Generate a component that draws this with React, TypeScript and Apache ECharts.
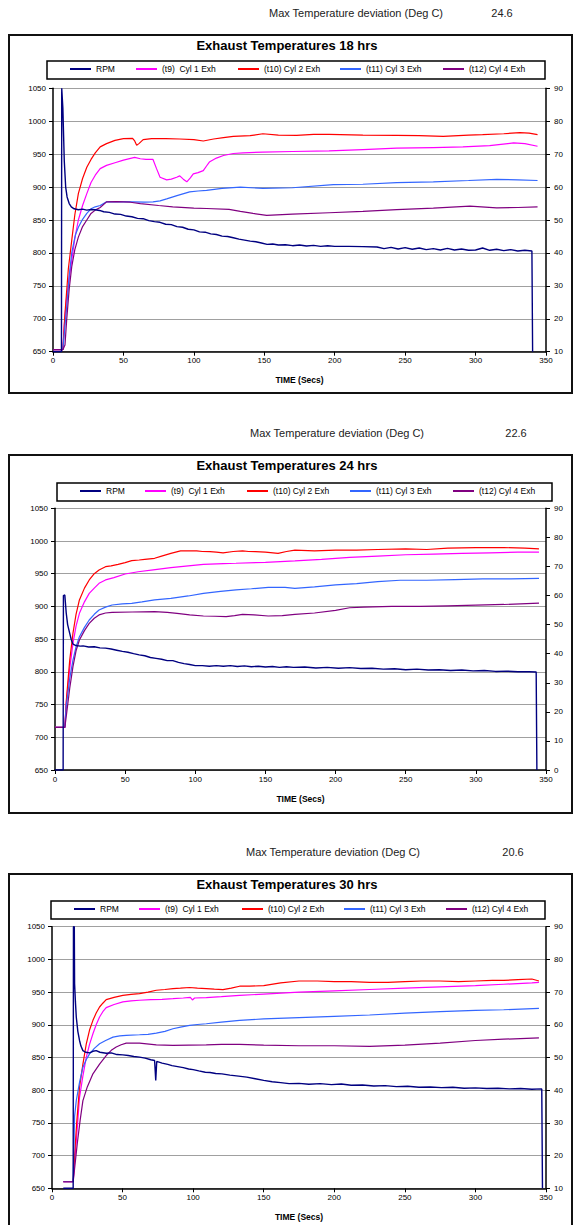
import React, { useEffect, useRef } from "react";
import * as echarts from "echarts";

// ---------- DATA ----------
const chartTitles = ["Exhaust Temperatures 18 hrs", "Exhaust Temperatures 24 hrs", "Exhaust Temperatures 30 hrs"];
const deviationLabel = "Max Temperature deviation (Deg C)";
const deviationValues = ["24.6", "22.6", "20.6"];
const seriesNames = ["RPM", "(t9)  Cyl 1 Exh", "(t10) Cyl 2 Exh", "(t11) Cyl 3 Exh", "(t12) Cyl 4 Exh"];
const xTitle = "TIME (Secs)";
const xRange = [0, 350, 50];
const tempRange = [650, 1050, 50];
const rpmRanges = [[10, 90, 10], [0, 90, 10], [10, 90, 10]];

// 18 hrs
const rpm18 = [[0,10],[6,10],[6.2,90],[7,84],[8,68],[9,60],[10,57],[11.5,55],[13,54],[15,53.4],[18,53.1],[21,53.3],[24,53.0],[27,53.2],[30,53.1],[33,52.9],[36,52.5],[40,52.3],[44,51.8],[48,51.7],[52,51.2],[56,51.0],[60,50.5],[64,50.4],[68,49.8],[72,49.5],[76,49.3],[80,48.7],[84,48.6],[88,48.0],[92,47.8],[96,47.2],[100,47.0],[104,46.4],[108,46.3],[112,45.8],[116,45.6],[120,45.1],[124,45.0],[128,44.6],[132,44.2],[136,43.9],[140,43.6],[144,43.4],[148,43.0],[152,42.6],[156,42.7],[160,42.4],[165,42.5],[170,42.2],[175,42.4],[180,42.1],[185,42.3],[190,42.0],[195,42.2],[200,42.0],[210,42.0],[220,41.9],[230,41.8],[235,41.3],[240,41.7],[245,41.2],[250,41.6],[255,41.1],[260,41.5],[265,41.0],[270,41.3],[275,40.9],[280,41.4],[285,40.9],[290,41.2],[295,40.8],[300,40.9],[305,41.5],[310,40.8],[315,41.1],[320,40.7],[325,41.0],[330,40.6],[335,40.8],[340,40.6],[340.5,10]];
const cyl1_18 = [[0,653],[7,653],[8,690],[9.7,733],[11.5,762],[13.3,789],[15.5,822],[18,850],[21,872],[24,890],[27,907],[30,918],[33.5,928],[38,933],[44,937],[50,941],[58,945],[62,943],[66,942],[71,942],[73.5,928],[76,915],[80.7,911],[84,912],[87.8,915],[90,917],[92.5,912],[95,908],[97.5,914],[99.6,920],[103,922],[106.7,925],[109,932],[111,938],[116,944],[121,948],[128,951],[135,952],[149,953],[170,954],[196,955],[220,957],[244,959],[270,960],[291,961],[310,963],[327,967],[335,966],[344,962]];
const cyl2_18 = [[0,653],[7,653],[8.5,708],[10.9,776],[13.3,819],[15.5,858],[18,890],[21,913],[24,930],[27,942],[30,952],[33.5,961],[38,966],[44,971],[50,973.6],[56.5,974],[58,970],[59.4,963.5],[61,966],[64,972],[70,973.5],[80,973.5],[90,973],[100,972],[106.7,970],[114,973],[121,975],[128,977],[140,978],[149,981],[160,979],[173,978.6],[185,980],[196,980],[220,979],[244,978.6],[260,978],[277,977],[295,979],[305,979.7],[320,981],[331.5,982.7],[338,982],[344,979.7]];
const cyl3_18 = [[0,653],[7,653],[8.5,690],[9.7,718],[11.5,765],[13.3,800],[14.4,812],[16,828],[18,839],[21,851],[24,860],[27,867],[30,870],[33.5,872],[38,877.5],[45,878],[57,877.5],[65,877],[71,877.5],[76,879],[80.7,882],[88,887],[97,892.6],[103,894],[109,895],[120,898],[133,900],[149,898],[170,899],[199,903.8],[220,904.3],[244,906.8],[270,908],[295,910],[315,911.8],[330,911],[344,910]];
const cyl4_18 = [[0,653],[7,653],[8.5,660],[9.7,698],[11.5,745],[13.3,779],[15.5,805],[18,824],[21,840],[24,850],[27,860],[30,865],[33.5,869],[38,877.5],[45,878],[55,877],[62,875],[75,872],[85,870],[100,868],[109,867.5],[125,866],[133,863],[142,860],[151.7,857],[170,859],[196,861],[220,863],[244,865.8],[270,868],[296,871],[315,868.5],[330,869],[344,869.8]];

// 24 hrs
const rpm24 = [[0,0],[5.8,0],[6,60],[7,60.2],[8,54],[9,50],[10.5,47],[11.5,45],[12.8,43.3],[15,42.8],[18,42.6],[20,42.7],[24,42.3],[28,42.4],[32,42.0],[36,41.9],[40,41.6],[44,41.2],[48,40.8],[52,40.5],[56,40.0],[60,39.6],[64,39.3],[68,38.7],[72,38.4],[76,38.1],[80,37.6],[84,37.6],[88,37.0],[92,36.6],[96,36.3],[100,35.9],[105,35.9],[110,35.7],[115,35.9],[120,35.7],[125,35.9],[130,35.6],[135,35.8],[140,35.5],[145,35.7],[150,35.4],[155,35.6],[160,35.3],[165,35.5],[170,35.3],[178,35.4],[186,35.1],[194,35.3],[202,35.0],[210,35.2],[218,34.9],[226,35.0],[234,34.7],[242,34.8],[250,34.5],[258,34.7],[266,34.4],[274,34.5],[282,34.2],[290,34.4],[298,34.1],[306,34.2],[314,33.9],[322,34.0],[330,33.8],[338,33.8],[343,33.7],[343.5,0]];
const cyl1_24 = [[0,715],[7,715],[8,752],[10.5,805],[12.8,843.6],[15,870],[17.4,889.5],[21,907],[24.4,920],[28,928],[31.4,935.3],[36,940.5],[42,944],[50,949.6],[59.3,953],[70,956],[82.6,959.3],[95,962],[105.8,964.4],[120,965.5],[129,966],[150,967.5],[171,969.5],[190,972],[210,975],[230,977],[250,979],[270,980],[290,981],[310,982],[330,983],[345,983]];
const cyl2_24 = [[0,715],[7,715],[8.1,757],[10.5,818],[12.8,859],[15,888],[17.4,910],[21,928],[24.4,940.5],[28,950],[31.4,955.7],[36,960.8],[40,962],[45,964.4],[50,967],[54.7,970],[60,971],[64,972],[71,973.6],[76,977],[82.6,981],[89.5,985],[95,985],[101,985],[105,984],[110.5,983.8],[115,983],[119.8,982],[127,984],[133.7,985],[138,984],[143,983.8],[150,983],[159,981],[165,984],[171,986],[185,985],[200,986],[215,986],[230,987],[250,988],[265,987],[280,989],[300,990],[320,990],[335,989],[345,988]];
const cyl3_24 = [[0,715],[7,715],[8,747],[10.5,790],[12.8,818],[15,838],[17.4,853.8],[21,868],[24.4,879.3],[28,888],[31.4,894.6],[36,899],[40.7,902.2],[48,904],[54.7,904.8],[62,907],[71,910],[82.6,912.4],[95,916],[105.8,920],[118,923],[129,925.2],[140,927],[152,929.2],[164,929],[171,927.7],[185,930],[200,933],[215,935],[230,938],[246,940],[265,940],[285,941],[305,942],[325,942],[345,943]];
const cyl4_24 = [[0,715],[7,715],[8,731.5],[10.5,775],[12.8,808],[15,832],[17.4,848.7],[21,863],[24.4,874],[28,882],[31.4,887],[36,890],[40.7,891],[55,891.5],[71,892],[80,891],[87,889.5],[96,887],[105.8,885.4],[114,885],[122,884.4],[128,886],[133.7,888],[142,887],[152,885.4],[162,886],[171,888],[185,890],[200,894],[210,898],[220,899],[240,900],[260,900],[280,901],[300,902],[320,903],[345,905]];

// 30 hrs
const rpm30 = [[8,10],[15,10],[15.2,90],[15.8,90],[16,72.6],[16.6,67],[17.2,62.4],[18.3,58],[19.5,55.2],[20.5,53.5],[21.9,52.1],[24,51.6],[26.6,51.4],[29,51.9],[31.3,52.1],[34,51.6],[38.4,51.3],[42,51.4],[46,50.9],[50.2,50.8],[54,50.6],[58,50.3],[62,50.1],[66,49.8],[70,49.3],[72.7,49.1],[73.5,43],[74.2,48.8],[78,48.3],[82,47.9],[85,47.5],[89,47.2],[93,46.9],[96.8,46.5],[100,46.3],[104,45.9],[108.6,45.5],[112,45.4],[116,45.1],[120.4,45.0],[126,44.6],[132.2,44.3],[138,44.0],[144,43.5],[150,43.0],[156,42.6],[162,42.3],[168,42.0],[175,42.1],[182,41.8],[190,42.0],[198,41.7],[205,41.9],[212,41.5],[220,41.6],[228,41.3],[236,41.4],[244,41.1],[252,41.2],[260,40.9],[268,41.0],[276,40.8],[284,40.9],[292,40.6],[300,40.7],[308,40.5],[316,40.6],[324,40.4],[332,40.5],[340,40.3],[347,40.4],[347.5,10]];
const cyl1_30 = [[8,660],[15,660],[16,690],[17.5,730],[19.5,789],[21.9,822],[24.3,850.5],[26.6,870],[29,886.3],[31.3,900],[33.7,912],[36,920],[38.4,926.2],[44,931],[50.2,935],[56,936.5],[62,937.5],[70,938.5],[78,939],[85.7,940],[93,941],[98,942],[99.5,938],[101,941],[109.3,941.6],[120,943],[132.9,945],[150,947],[175,950],[200,952],[225,954],[250,956],[275,958],[300,960],[320,962],[340,964],[345,965]];
const cyl2_30 = [[8,660],[15,660],[16,700],[17.5,750],[19.5,804.5],[21.9,840],[24.3,871],[26.6,892],[29,906.8],[31.3,918],[33.7,927.2],[36,933],[38.4,938.5],[44,942],[50.2,945],[56,946.5],[62,947.7],[68,950],[73.9,952.8],[80,954],[85.7,955.4],[91,956],[97.5,957],[103,956],[109.3,955.4],[115,954.5],[121.1,953.8],[127,956],[132.9,959],[140,959],[150,960],[162,964],[175,967],[188,967],[200,966],[212,966],[225,965],[238,965],[250,966],[262,967],[275,967],[288,966],[300,967],[312,968],[320,968],[330,969],[340,970],[345,967]];
const cyl3_30 = [[8,660],[15,660],[16,760],[17.2,784],[19.5,812],[21.9,835.2],[24.3,847],[26.6,855.6],[30,864],[33.7,871],[38,876],[43.2,881.2],[48,883],[52.6,883.8],[62,884.8],[68,885.5],[73.9,887.3],[80,890],[85.7,894],[91,896.5],[97.5,899],[103,900.5],[109.3,901.6],[120,904],[132.9,906.8],[150,909],[175,911],[200,913],[225,915],[250,918],[275,920],[300,922],[320,923],[345,925]];
const cyl4_30 = [[8,660],[15,660],[16,680],[18,720],[20,755],[21.9,784],[25,805],[29,825],[33.7,840],[38.4,853],[42,861],[45.5,866],[49,869.5],[52.6,872],[62,872],[73.9,869.4],[85.7,868.4],[97,869],[109.3,869.4],[120,870],[132.9,870],[150,869],[175,868],[200,868],[225,867],[250,869],[275,872],[300,876],[320,878],[345,880]];

const panelData = [
  [rpm18, cyl1_18, cyl2_18, cyl3_18, cyl4_18],
  [rpm24, cyl1_24, cyl2_24, cyl3_24, cyl4_24],
  [rpm30, cyl1_30, cyl2_30, cyl3_30, cyl4_30],
];

// ---------- STYLE / LAYOUT ----------
const colors = ["#000080", "#FF00FF", "#FF0000", "#3366FF", "#800080"];
const FONT = "'Liberation Sans', Arial, sans-serif";
const layout = [
  { box: [9, 35, 563, 358], grid: [53, 88.3, 493, 263.4], title: 47, topText: 13, legendBox: [47, 61, 498, 18], legendX: [70, 136, 238, 340, 443], textX: 356, valueX: 502 },
  { box: [9, 455, 563, 358], grid: [55, 508.3, 491, 261.7], title: 467, topText: 433, legendBox: [57, 483, 495, 18], legendX: [80, 145, 247, 350, 453], textX: 337, valueX: 516 },
  { box: [9, 874, 563, 370], grid: [52, 926.7, 494, 261.6], title: 886, topText: 852, legendBox: [51, 901, 494, 18], legendX: [74, 139, 242, 344, 446], textX: 333, valueX: 513 },
];

function buildOption() {
  const grid: any[] = [];
  const xAxis: any[] = [];
  const yAxis: any[] = [];
  const series: any[] = [];
  const title: any[] = [];
  const legend: any[] = [];
  const graphic: any[] = [];

  const plain = (v: number) => String(v);
  const axisCommon = {
    axisLine: { show: true, onZero: false, lineStyle: { color: "#000", width: 1.5 } },
    axisTick: { show: true, length: 4, lineStyle: { color: "#000", width: 1 } },
    axisLabel: { fontSize: 8, color: "#000", fontFamily: FONT, formatter: plain },
  };

  layout.forEach((L, i) => {
    const [gl, gt, gw, gh] = L.grid;
    grid.push({ left: gl, top: gt, width: gw, height: gh, containLabel: false });
    xAxis.push({
      type: "value", gridIndex: i, min: xRange[0], max: xRange[1], interval: xRange[2],
      ...axisCommon,
      axisLabel: { ...axisCommon.axisLabel, margin: 5 },
      splitLine: { show: false },
      name: xTitle, nameLocation: "middle", nameGap: 24,
      nameTextStyle: { fontSize: 8.5, fontWeight: "bold", color: "#000", fontFamily: FONT },
    });
    yAxis.push({
      type: "value", gridIndex: i, position: "left", min: tempRange[0], max: tempRange[1], interval: tempRange[2],
      ...axisCommon,
      axisLabel: { ...axisCommon.axisLabel, margin: 7 },
      splitLine: { show: true, lineStyle: { color: "#a0a0a0", width: 1 } },
    });
    const rr = rpmRanges[i];
    yAxis.push({
      type: "value", gridIndex: i, position: "right", min: rr[0], max: rr[1], interval: rr[2],
      ...axisCommon,
      axisLabel: { ...axisCommon.axisLabel, margin: 8 },
      splitLine: { show: false },
    });

    panelData[i].forEach((d, k) => {
      series.push({
        type: "line", name: seriesNames[k], xAxisIndex: i, yAxisIndex: k === 0 ? 2 * i + 1 : 2 * i,
        data: d, showSymbol: false, symbol: "none", clip: true,
        lineStyle: { color: colors[k], width: k === 0 ? 1.4 : 1.2 }, itemStyle: { color: colors[k] },
        z: k === 0 ? 3 : 2,
      });
    });

    title.push({
      text: chartTitles[i], left: "center", top: L.title - 8, padding: [0, 0, 0, 14],
      textStyle: { fontSize: 13, fontWeight: "bold", color: "#000", fontFamily: FONT },
    });

    const [lx, ly, lw, lh] = L.legendBox;
    graphic.push({ type: "rect", shape: { x: lx, y: ly, width: lw, height: lh }, style: { fill: "none", stroke: "#000", lineWidth: 1.5 }, silent: true });
    seriesNames.forEach((nm, k) => {
      legend.push({
        data: [nm], left: L.legendX[k], top: ly + lh / 2 - 5.5, padding: 0, itemGap: 0,
        icon: "rect", itemWidth: 21, itemHeight: 2, selectedMode: false,
        textStyle: { fontSize: 8.5, color: "#000", fontFamily: FONT },
      });
    });

    const [bx, by, bw, bh] = L.box;
    graphic.push({ type: "rect", shape: { x: bx, y: by, width: bw, height: bh }, style: { fill: "none", stroke: "#111", lineWidth: 2 }, silent: true });
    graphic.push({ type: "text", x: L.textX, y: L.topText, style: { text: deviationLabel, fontSize: 11, fill: "#222", fontFamily: FONT, textAlign: "center", textVerticalAlign: "middle" } });
    graphic.push({ type: "text", x: L.valueX, y: L.topText, style: { text: deviationValues[i], fontSize: 11, fill: "#222", fontFamily: FONT, textAlign: "center", textVerticalAlign: "middle" } });
  });

  return { animation: false, backgroundColor: "#fff", grid, xAxis, yAxis, series, title, legend, graphic };
}

export default function App() {
  const ref = useRef<HTMLDivElement>(null);
  useEffect(() => {
    document.body.style.margin = "0";
    if (!ref.current) return;
    const chart = echarts.init(ref.current, undefined, { renderer: "svg" });
    chart.setOption(buildOption() as any);
    return () => chart.dispose();
  }, []);
  return <div ref={ref} style={{ width: 574, height: 1225 }} />;
}
